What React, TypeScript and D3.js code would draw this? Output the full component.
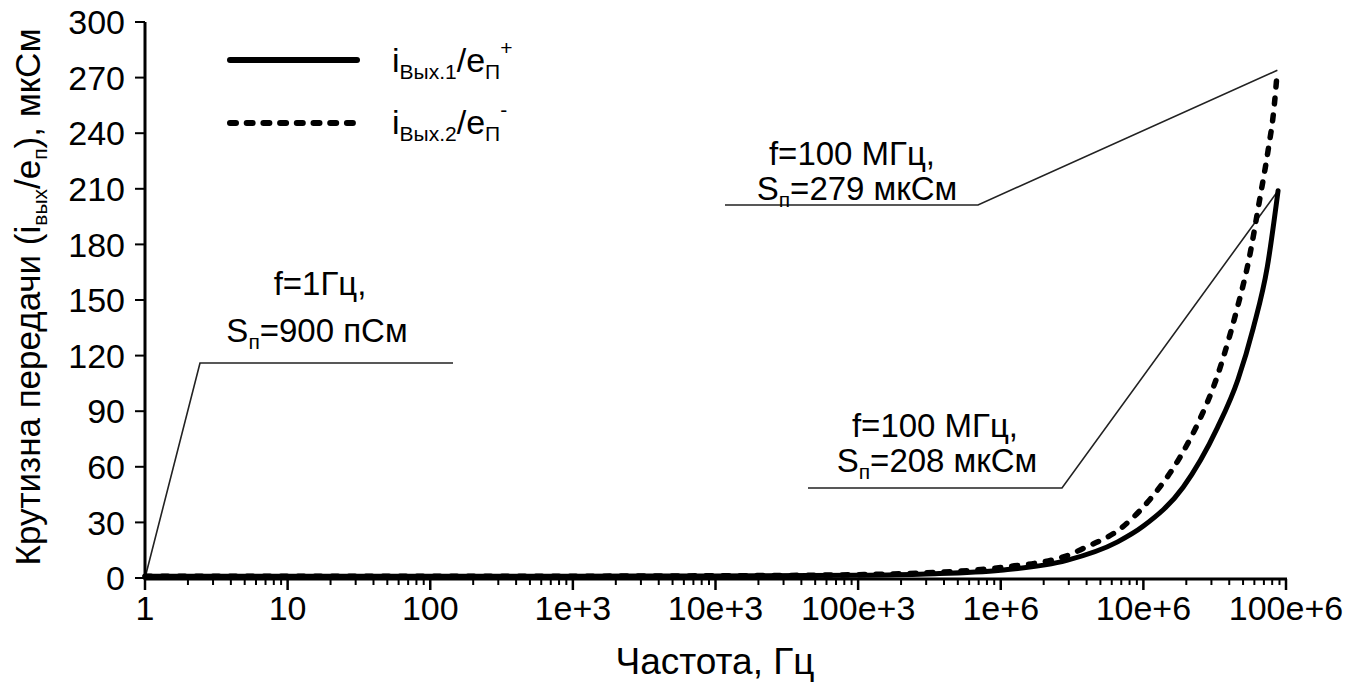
import React from "react";
import * as d3 from "d3";

// ---- data ----
const freqSolid = [1, 10, 100, 1e3, 1e4, 1e5, 3e5, 1e6, 2.9e6, 6.6e6, 1e7, 1.9e7, 3.3e7, 4.6e7, 5.9e7, 7.4e7, 8.8e7];
const valSolid = [1, 1, 1, 1, 1.1, 1.5, 2.2, 4.2, 9.5, 19.5, 28, 49, 81, 107, 135, 168, 209];

const freqDashed = [1, 10, 100, 1e3, 1e4, 1e5, 3e5, 1e6, 2.9e6, 3.8e6, 7e6, 1.1e7, 1.8e7, 2.5e7, 3.2e7, 3.6e7, 4.6e7, 5.4e7, 6.6e7, 7.5e7, 8.2e7, 8.7e7];
const valDashed = [1, 1, 1, 1, 1.2, 1.8, 2.8, 5.7, 12, 16, 27, 42, 65, 86, 106, 118, 147, 169, 206, 231, 252, 274];

const xTickValues = [1, 10, 100, 1e3, 1e4, 1e5, 1e6, 1e7, 1e8];
const xTickLabels = ["1", "10", "100", "1e+3", "10e+3", "100e+3", "1e+6", "10e+6", "100e+6"];
const yTickValues = [0, 30, 60, 90, 120, 150, 180, 210, 240, 270, 300];

const FONT = "'Liberation Sans', Arial, sans-serif";

export default function App() {
  const x = d3.scaleLog().domain([1, 1e8]).range([145, 1286]);
  const y = d3.scaleLinear().domain([0, 300]).range([578, 22]);

  const line = d3
    .line<[number, number]>()
    .x((d) => x(d[0]))
    .y((d) => y(d[1]))
    .curve(d3.curveMonotoneX);

  const solidPts: [number, number][] = freqSolid.map((f, i) => [f, valSolid[i]]);
  const dashedPts: [number, number][] = freqDashed.map((f, i) => [f, valDashed[i]]);

  const minorTicks: number[] = [];
  for (let e = 0; e < 8; e++) {
    for (let m = 2; m <= 9; m++) minorTicks.push(m * Math.pow(10, e));
  }

  const solidEnd = solidPts[solidPts.length - 1];
  const dashedEnd = dashedPts[dashedPts.length - 1];

  const axisY = 579;
  const fs = 34;
  const afs = 33;
  const sub = 21;

  return (
    <svg
      width={1357}
      height={682}
      style={{ position: "absolute", left: 0, top: 0, background: "#fff" }}
      fontFamily={FONT}
    >
      <rect width={1357} height={682} fill="#fff" />

      {/* annotation leader lines */}
      <g stroke="#222" strokeWidth={1.6} fill="none">
        <polyline points={`${x(1)},${y(0)} 200,363 453,363`} />
        <polyline points={`725,205 978,205 ${x(dashedEnd[0])},${y(dashedEnd[1])}`} />
        <polyline points={`808,488 1062,488 ${x(solidEnd[0])},${y(solidEnd[1])}`} />
      </g>

      {/* curves */}
      <path d={line(solidPts) || ""} fill="none" stroke="#000" strokeWidth={5} strokeLinecap="round" strokeLinejoin="round" />
      <path
        d={line(dashedPts) || ""}
        fill="none"
        stroke="#000"
        strokeWidth={5.5}
        strokeDasharray="6 11"
        strokeLinecap="round"
      />

      {/* axes */}
      <g stroke="#000">
        <line x1={145} y1={22} x2={145} y2={axisY + 1} strokeWidth={3} />
        <line x1={144} y1={axisY} x2={x(1e8) + 1} y2={axisY} strokeWidth={3} />
        {yTickValues.map((v) => (
          <line key={"yt" + v} x1={135} x2={145} y1={y(v)} y2={y(v)} strokeWidth={2} />
        ))}
        {xTickValues.map((v) => (
          <line key={"xt" + v} x1={x(v)} x2={x(v)} y1={axisY} y2={axisY + 11} strokeWidth={2.5} />
        ))}
        {minorTicks.map((v) => (
          <line key={"mt" + v} x1={x(v)} x2={x(v)} y1={axisY} y2={axisY + 6} strokeWidth={2} />
        ))}
      </g>

      {/* tick labels */}
      <g fontSize={fs} fill="#000">
        {yTickValues.map((v) => (
          <text key={"yl" + v} x={125} y={y(v)} dy="0.36em" textAnchor="end">
            {v}
          </text>
        ))}
        {xTickValues.map((v, i) => (
          <text key={"xl" + v} x={x(v)} y={620} textAnchor="middle">
            {xTickLabels[i]}
          </text>
        ))}
      </g>

      {/* axis titles */}
      <text x={715} y={674} fontSize={37} textAnchor="middle">
        Частота, Гц
      </text>
      <text transform="translate(40,297) rotate(-90)" fontSize={35} textAnchor="middle">
        Крутизна передачи (i
        <tspan fontSize={sub} dy={7}>вых</tspan>
        <tspan dy={-7}>/e</tspan>
        <tspan fontSize={sub} dy={7}>п</tspan>
        <tspan dy={-7}>), мкСм</tspan>
      </text>

      {/* legend */}
      <line x1={230} x2={357} y1={60} y2={60} stroke="#000" strokeWidth={6} strokeLinecap="round" />
      <line x1={230} x2={357} y1={123} y2={123} stroke="#000" strokeWidth={6} strokeDasharray="6 10.7" strokeLinecap="round" />
      <text x={392} y={72} fontSize={fs}>
        i<tspan fontSize={sub} dy={7}>Вых.1</tspan>
        <tspan dy={-7}>/e</tspan>
        <tspan fontSize={sub} dy={7}>П</tspan>
        <tspan fontSize={sub} dy={-24}>+</tspan>
      </text>
      <text x={392} y={134} fontSize={fs}>
        i<tspan fontSize={sub} dy={7}>Вых.2</tspan>
        <tspan dy={-7}>/e</tspan>
        <tspan fontSize={sub} dy={7}>П</tspan>
        <tspan fontSize={sub} dy={-24}>-</tspan>
      </text>

      {/* annotations */}
      <g fontSize={afs} textAnchor="middle">
        <text x={320} y={295}>f=1Гц,</text>
        <text x={317} y={342}>
          S<tspan fontSize={sub} dy={7}>п</tspan>
          <tspan dy={-7}>=900 пСм</tspan>
        </text>
        <text x={852} y={165}>f=100 МГц,</text>
        <text x={857} y={200}>
          S<tspan fontSize={sub} dy={7}>п</tspan>
          <tspan dy={-7}>=279 мкСм</tspan>
        </text>
        <text x={935} y={437}>f=100 МГц,</text>
        <text x={937} y={472}>
          S<tspan fontSize={sub} dy={7}>п</tspan>
          <tspan dy={-7}>=208 мкСм</tspan>
        </text>
      </g>
    </svg>
  );
}
